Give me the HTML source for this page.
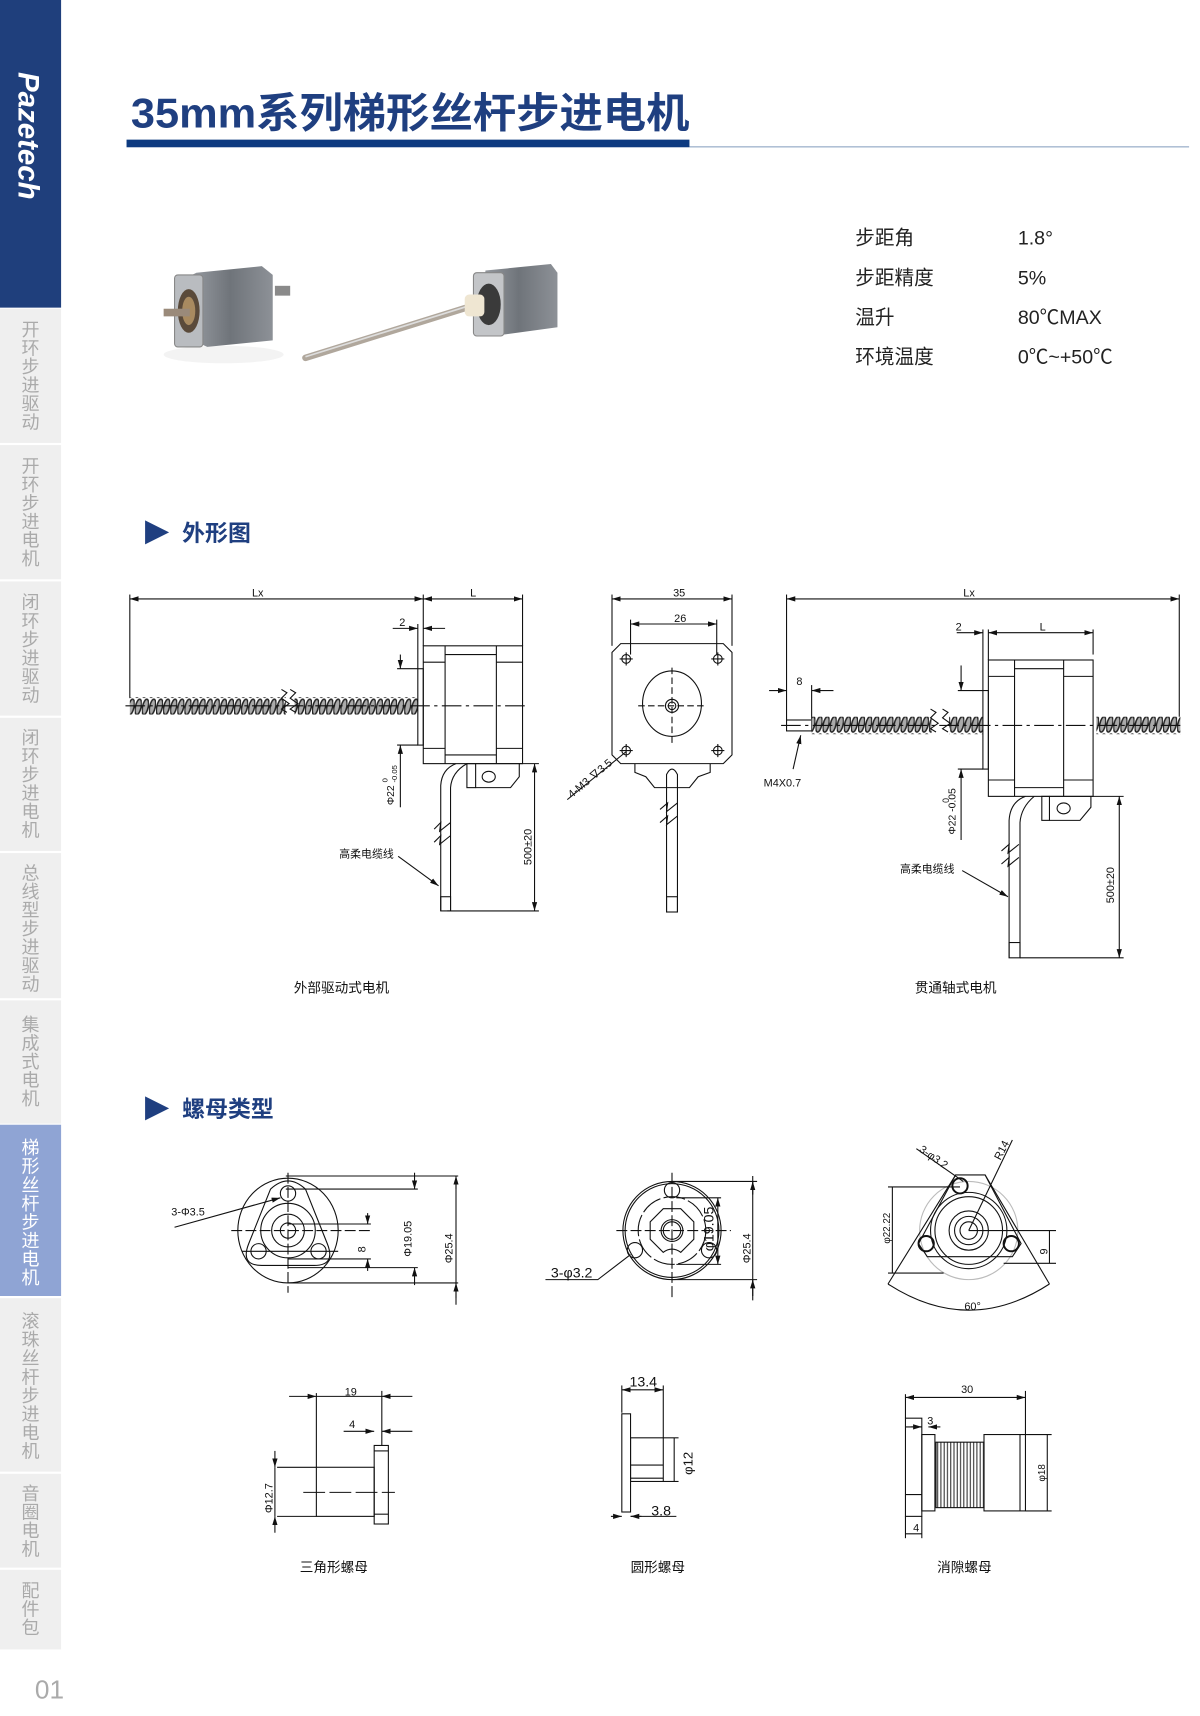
<!DOCTYPE html>
<html><head><meta charset="utf-8"><style>
html,body{margin:0;padding:0;background:#fff;}
svg{display:block}
text{font-family:"Liberation Sans","Noto Sans CJK SC",sans-serif;}
</style></head><body>
<svg width="1200" height="1716" viewBox="0 0 1100 1573" xmlns="http://www.w3.org/2000/svg">
<defs>
<pattern id="thr" width="6.5" height="16" patternUnits="userSpaceOnUse">
<rect width="6.5" height="16" fill="#fff"/>
<ellipse cx="3.25" cy="8" rx="2.6" ry="7.2" transform="rotate(12 3.25 8)" fill="#aaa" stroke="#222" stroke-width="1.4"/>
</pattern>
<pattern id="thr2" width="3" height="10" patternUnits="userSpaceOnUse">
<rect width="3" height="10" fill="#fff"/><line x1="1.5" y1="0" x2="1.5" y2="10" stroke="#333" stroke-width="1"/>
</pattern>
<marker id="a" viewBox="0 0 10 6" refX="10" refY="3" markerWidth="8" markerHeight="5" orient="auto-start-reverse"><path d="M0 0L10 3L0 6z" fill="#111"/></marker>
<linearGradient id="mg" x1="0" y1="0" x2="1" y2="0"><stop offset="0" stop-color="#9a9ea4"/><stop offset=".5" stop-color="#6f747a"/><stop offset="1" stop-color="#8d9197"/></linearGradient>
</defs>

<!-- sidebar -->
<rect x="0" y="0" width="56" height="282" fill="#1f3f7c"/>
<text transform="translate(17,66) rotate(90)" font-size="27" font-weight="bold" font-style="italic" fill="#fff">Pazetech</text>
<g font-size="16.5" fill="#aaa" text-anchor="middle">
<rect x="0" y="283" width="56" height="123" fill="#efefef"/>
<rect x="0" y="408" width="56" height="123" fill="#efefef"/>
<rect x="0" y="533" width="56" height="123" fill="#efefef"/>
<rect x="0" y="658" width="56" height="122" fill="#efefef"/>
<rect x="0" y="782" width="56" height="133" fill="#efefef"/>
<rect x="0" y="917" width="56" height="113" fill="#efefef"/>
<rect x="0" y="1031" width="56" height="157" fill="#8fa4d4"/>
<rect x="0" y="1190" width="56" height="159" fill="#efefef"/>
<rect x="0" y="1351" width="56" height="86" fill="#efefef"/>
<rect x="0" y="1439" width="56" height="73" fill="#efefef"/>
<text x="28"><tspan x="28" y="308">开</tspan><tspan x="28" y="325">环</tspan><tspan x="28" y="342">步</tspan><tspan x="28" y="359">进</tspan><tspan x="28" y="376">驱</tspan><tspan x="28" y="393">动</tspan></text>
<text><tspan x="28" y="433">开</tspan><tspan x="28" y="450">环</tspan><tspan x="28" y="467">步</tspan><tspan x="28" y="484">进</tspan><tspan x="28" y="501">电</tspan><tspan x="28" y="518">机</tspan></text>
<text><tspan x="28" y="558">闭</tspan><tspan x="28" y="575">环</tspan><tspan x="28" y="592">步</tspan><tspan x="28" y="609">进</tspan><tspan x="28" y="626">驱</tspan><tspan x="28" y="643">动</tspan></text>
<text><tspan x="28" y="682">闭</tspan><tspan x="28" y="699">环</tspan><tspan x="28" y="716">步</tspan><tspan x="28" y="733">进</tspan><tspan x="28" y="750">电</tspan><tspan x="28" y="767">机</tspan></text>
<text><tspan x="28" y="806">总</tspan><tspan x="28" y="823">线</tspan><tspan x="28" y="840">型</tspan><tspan x="28" y="857">步</tspan><tspan x="28" y="874">进</tspan><tspan x="28" y="891">驱</tspan><tspan x="28" y="908">动</tspan></text>
<text><tspan x="28" y="945">集</tspan><tspan x="28" y="962">成</tspan><tspan x="28" y="979">式</tspan><tspan x="28" y="996">电</tspan><tspan x="28" y="1013">机</tspan></text>
<text fill="#fff"><tspan x="28" y="1058">梯</tspan><tspan x="28" y="1075">形</tspan><tspan x="28" y="1092">丝</tspan><tspan x="28" y="1109">杆</tspan><tspan x="28" y="1126">步</tspan><tspan x="28" y="1143">进</tspan><tspan x="28" y="1160">电</tspan><tspan x="28" y="1177">机</tspan></text>
<text><tspan x="28" y="1217">滚</tspan><tspan x="28" y="1234">珠</tspan><tspan x="28" y="1251">丝</tspan><tspan x="28" y="1268">杆</tspan><tspan x="28" y="1285">步</tspan><tspan x="28" y="1302">进</tspan><tspan x="28" y="1319">电</tspan><tspan x="28" y="1336">机</tspan></text>
<text><tspan x="28" y="1375">音</tspan><tspan x="28" y="1392">圈</tspan><tspan x="28" y="1409">电</tspan><tspan x="28" y="1426">机</tspan></text>
<text><tspan x="28" y="1464">配</tspan><tspan x="28" y="1481">件</tspan><tspan x="28" y="1498">包</tspan></text>
</g>
<text x="32" y="1557" font-size="24" fill="#aaa">01</text>

<!-- title -->
<text x="120" y="117" font-size="38" font-weight="bold" fill="#1f3f80" textLength="512" lengthAdjust="spacingAndGlyphs">35mm系列梯形丝杆步进电机</text>
<rect x="116" y="128" width="516" height="7" fill="#0d3a80"/>
<rect x="632" y="134" width="458" height="1.2" fill="#9fb3cc"/>

<!-- photos -->
<g>
<ellipse cx="205" cy="325" rx="55" ry="8" fill="#f3f3f3"/>
<rect x="252" y="262" width="14" height="9" fill="#8a8a8a"/>
<polygon points="180,250 240,244 250,252 250,312 190,318 172,310 172,254" fill="url(#mg)"/>
<rect x="160" y="252" width="26" height="66" rx="3" fill="#b9bcc0" stroke="#888"/>
<ellipse cx="173" cy="285" rx="10" ry="20" fill="#5a4a3a"/>
<ellipse cx="173" cy="285" rx="6" ry="13" fill="#a88a60"/>
<rect x="150" y="283" width="24" height="7" fill="#9a8a7a"/>
<line x1="280" y1="328" x2="431" y2="281" stroke="#b0a79c" stroke-width="6" stroke-linecap="round"/>
<line x1="280" y1="327" x2="431" y2="280" stroke="#ddd" stroke-width="1.5"/>
<polygon points="445,248 505,242 511,250 511,300 452,308 440,300" fill="url(#mg)"/>
<rect x="434" y="250" width="28" height="58" rx="3" fill="#c3c5c8" stroke="#888"/>
<ellipse cx="448" cy="279" rx="11" ry="19" fill="#3a3a3a"/>
<rect x="426" y="270" width="18" height="20" rx="4" fill="#efe6d2"/>
</g>

<!-- specs -->
<g font-size="18" fill="#222">
<text x="784" y="224">步距角</text><text x="933" y="224">1.8°</text>
<text x="784" y="261">步距精度</text><text x="933" y="261">5%</text>
<text x="784" y="297">温升</text><text x="933" y="297">80℃MAX</text>
<text x="784" y="333">环境温度</text><text x="933" y="333">0℃~+50℃</text>
</g>

<!-- headings -->
<polygon points="133,477 155,488 133,499" fill="#1f3f80"/>
<text x="167" y="496" font-size="21" font-weight="bold" fill="#1f3f80">外形图</text>
<polygon points="133,1005 155,1016 133,1027" fill="#1f3f80"/>
<text x="167" y="1024" font-size="21" font-weight="bold" fill="#1f3f80">螺母类型</text>

<g fill="none" stroke="#111" stroke-width="1">
<!-- ============ left drawing ============ -->
<line x1="119" y1="545" x2="119" y2="640"/><line x1="388" y1="545" x2="388" y2="592"/><line x1="479" y1="545" x2="479" y2="592"/>
<line x1="119" y1="549" x2="388" y2="549" marker-start="url(#a)" marker-end="url(#a)"/>
<line x1="388" y1="549" x2="479" y2="549" marker-start="url(#a)" marker-end="url(#a)"/>
<line x1="383" y1="572" x2="383" y2="613"/>
<line x1="360" y1="576" x2="383" y2="576" marker-end="url(#a)"/><line x1="408" y1="576" x2="388" y2="576" marker-end="url(#a)"/>
<rect x="119" y="639" width="143" height="16" fill="url(#thr)" stroke="none"/>
<rect x="270" y="639" width="113" height="16" fill="url(#thr)" stroke="none"/>
<path d="M258 632 l5 3 l-5 5 l7 5 l-7 5 l5 3 M266 632 l5 3 l-5 5 l7 5 l-7 5 l5 3"/>
<line x1="115" y1="647" x2="485" y2="647" stroke-dasharray="18 4 3 4"/>
<rect x="383" y="613" width="5" height="70"/>
<rect x="388" y="592" width="91" height="108"/>
<line x1="408" y1="592" x2="408" y2="700"/><line x1="455" y1="592" x2="455" y2="700"/>
<line x1="388" y1="607" x2="408" y2="607"/><line x1="455" y1="607" x2="479" y2="607"/>
<line x1="408" y1="600" x2="455" y2="600"/><line x1="408" y1="692" x2="455" y2="692"/>
<line x1="388" y1="686" x2="408" y2="686"/><line x1="455" y1="686" x2="479" y2="686"/>
<line x1="364" y1="613" x2="383" y2="613"/><line x1="364" y1="683" x2="383" y2="683"/>
<line x1="367" y1="600" x2="367" y2="613" marker-end="url(#a)"/><line x1="367" y1="740" x2="367" y2="683" marker-end="url(#a)"/>
<path d="M418 700 Q405 705 404 720 L404 835 M428 700 Q414 708 413 722 L413 835"/>
<rect x="404" y="822" width="9" height="13"/>
<rect x="428" y="700" width="8" height="22"/><path d="M436 700 H476 L476 712 L468 722 H436"/>
<ellipse cx="448" cy="712" rx="6" ry="5"/>
<path d="M398 760 l6 -6 l-1 8 l10 -8 M398 772 l6 -6 l-1 8 l10 -8"/>
<line x1="410" y1="835" x2="494" y2="835"/><line x1="476" y1="700" x2="494" y2="700"/>
<line x1="490" y1="700" x2="490" y2="835" marker-start="url(#a)" marker-end="url(#a)"/>
<line x1="365" y1="785" x2="402" y2="812" marker-end="url(#a)"/>

<!-- front view -->
<line x1="561" y1="545" x2="561" y2="592"/><line x1="671" y1="545" x2="671" y2="592"/>
<line x1="561" y1="549" x2="671" y2="549" marker-start="url(#a)" marker-end="url(#a)"/>
<line x1="578" y1="568" x2="578" y2="600"/><line x1="657" y1="568" x2="657" y2="600"/>
<line x1="578" y1="572" x2="657" y2="572" marker-start="url(#a)" marker-end="url(#a)"/>
<path d="M569 590 H663 L671 598 V692 L663 700 H569 L561 692 V598 Z"/>
<ellipse cx="616" cy="645" rx="27" ry="30"/>
<circle cx="616" cy="647" r="6"/><circle cx="616" cy="647" r="3.5"/>
<line x1="585" y1="647" x2="648" y2="647" stroke-dasharray="6 3"/><line x1="616" y1="612" x2="616" y2="683" stroke-dasharray="6 3"/>
<circle cx="574" cy="604" r="4"/><circle cx="658" cy="604" r="4"/><circle cx="574" cy="688" r="4"/><circle cx="658" cy="688" r="4"/>
<path d="M568 604h12M574 598v12M652 604h12M658 598v12M568 688h12M574 682v12M652 688h12M658 682v12"/>
<path d="M582 700 V708 L592 712 L600 722 H632 L640 712 L651 708 V700"/>
<path d="M611 836 V710 Q616 700 621 710 V836"/><rect x="611" y="822" width="10" height="14"/>
<path d="M605 742 l7 -6 l-1 8 l10 -8 M605 754 l7 -6 l-1 8 l10 -8"/>
<line x1="520" y1="733" x2="574" y2="689"/>

<!-- ============ right drawing ============ -->
<line x1="721" y1="545" x2="721" y2="660"/><line x1="1081" y1="545" x2="1081" y2="660"/>
<line x1="721" y1="549" x2="1081" y2="549" marker-start="url(#a)" marker-end="url(#a)"/>
<line x1="901" y1="577" x2="901" y2="633"/><line x1="906" y1="577" x2="906" y2="605"/><line x1="1002" y1="577" x2="1002" y2="600"/>
<line x1="877" y1="580" x2="901" y2="580" marker-end="url(#a)"/>
<line x1="906" y1="580" x2="1002" y2="580" marker-start="url(#a)" marker-end="url(#a)"/>
<line x1="744" y1="628" x2="744" y2="660"/>
<line x1="705" y1="633" x2="721" y2="633" marker-end="url(#a)"/><line x1="764" y1="633" x2="744" y2="633" marker-end="url(#a)"/>
<rect x="721" y="660" width="23" height="10"/>
<rect x="744" y="657" width="110" height="16" fill="url(#thr)" stroke="none"/>
<rect x="870" y="657" width="31" height="16" fill="url(#thr)" stroke="none"/>
<rect x="1005" y="657" width="77" height="16" fill="url(#thr)" stroke="none"/>
<path d="M853 650 l5 3 l-5 5 l7 5 l-7 5 l5 3 M864 650 l5 3 l-5 5 l7 5 l-7 5 l5 3"/>
<line x1="716" y1="665" x2="1084" y2="665" stroke-dasharray="18 4 3 4"/>
<rect x="901" y="633" width="5" height="72"/>
<rect x="906" y="605" width="96" height="125"/>
<line x1="930" y1="605" x2="930" y2="730"/><line x1="975" y1="605" x2="975" y2="730"/>
<line x1="906" y1="620" x2="930" y2="620"/><line x1="975" y1="620" x2="1002" y2="620"/>
<line x1="930" y1="613" x2="975" y2="613"/><line x1="930" y1="722" x2="975" y2="722"/>
<line x1="906" y1="715" x2="930" y2="715"/><line x1="975" y1="715" x2="1002" y2="715"/>
<line x1="878" y1="633" x2="901" y2="633"/><line x1="878" y1="705" x2="901" y2="705"/>
<line x1="881" y1="610" x2="881" y2="633" marker-end="url(#a)"/><line x1="881" y1="770" x2="881" y2="705" marker-end="url(#a)"/>
<path d="M940 730 Q926 735 925 752 L925 878 M948 730 Q936 740 935 754 L935 878"/>
<rect x="925" y="864" width="10" height="14"/>
<rect x="955" y="730" width="7" height="22"/><path d="M962 730 H1000 V740 L990 752 H962"/>
<ellipse cx="975" cy="741" rx="6" ry="5"/>
<path d="M918 780 l7 -6 l-1 8 l10 -8 M918 792 l7 -6 l-1 8 l10 -8"/>
<line x1="935" y1="878" x2="1030" y2="878"/><line x1="1000" y1="730" x2="1030" y2="730"/>
<line x1="1026" y1="730" x2="1026" y2="878" marker-start="url(#a)" marker-end="url(#a)"/>
<line x1="882" y1="798" x2="924" y2="822" marker-end="url(#a)"/>
<line x1="727" y1="705" x2="734" y2="674" marker-end="url(#a)"/>

<!-- ============ nut 1 front ============ -->
<ellipse cx="264" cy="1128" rx="46" ry="48"/>
<path d="M248 1090 Q264 1075 280 1090 L300 1140 Q308 1160 288 1160 L240 1160 Q220 1160 228 1140 Z"/>
<circle cx="264" cy="1128" r="25"/><circle cx="264" cy="1128" r="15"/><circle cx="264" cy="1128" r="7"/>
<circle cx="264" cy="1094" r="7"/><circle cx="237" cy="1147" r="7"/><circle cx="292" cy="1147" r="7"/>
<line x1="212" y1="1128" x2="340" y2="1128" stroke-dasharray="10 3"/><line x1="264" y1="1075" x2="264" y2="1185" stroke-dasharray="10 3"/>
<line x1="222" y1="1147" x2="310" y2="1147"/>
<line x1="262" y1="1078" x2="420" y2="1078"/><line x1="262" y1="1090" x2="383" y2="1090"/>
<line x1="264" y1="1162" x2="383" y2="1162"/><line x1="264" y1="1176" x2="420" y2="1176"/>
<line x1="264" y1="1122" x2="340" y2="1122"/><line x1="264" y1="1154" x2="340" y2="1154"/>
<line x1="337" y1="1112" x2="337" y2="1122" marker-end="url(#a)"/><line x1="337" y1="1165" x2="337" y2="1154" marker-end="url(#a)"/>
<line x1="380" y1="1075" x2="380" y2="1090" marker-end="url(#a)"/><line x1="380" y1="1178" x2="380" y2="1162" marker-end="url(#a)"/>
<line x1="418" y1="1080" x2="418" y2="1196"/>
<line x1="418" y1="1090" x2="418" y2="1078" marker-end="url(#a)"/><line x1="418" y1="1190" x2="418" y2="1176" marker-end="url(#a)"/>
<line x1="160" y1="1125" x2="257" y2="1098" marker-end="url(#a)"/>

<!-- nut 2 front -->
<circle cx="616" cy="1128" r="45"/><circle cx="616" cy="1128" r="43"/>
<circle cx="616" cy="1128" r="31" stroke-dasharray="20 3"/>
<path d="M608 1108 H624 L636 1120 V1136 L624 1148 Q616 1142 608 1148 L596 1136 V1120 Z"/>
<circle cx="616" cy="1128" r="10"/><circle cx="616" cy="1128" r="8"/>
<circle cx="616" cy="1091" r="7"/><circle cx="582" cy="1146" r="7"/><circle cx="650" cy="1146" r="7"/>
<line x1="565" y1="1128" x2="670" y2="1128" stroke-dasharray="10 3"/><line x1="616" y1="1075" x2="616" y2="1190" stroke-dasharray="10 3"/>
<line x1="616" y1="1083" x2="694" y2="1083"/><line x1="616" y1="1173" x2="694" y2="1173"/>
<line x1="620" y1="1098" x2="661" y2="1098"/><line x1="620" y1="1159" x2="661" y2="1159"/>
<line x1="658" y1="1098" x2="658" y2="1159" marker-start="url(#a)" marker-end="url(#a)"/>
<line x1="690" y1="1078" x2="690" y2="1192"/>
<line x1="690" y1="1095" x2="690" y2="1083" marker-end="url(#a)"/><line x1="690" y1="1188" x2="690" y2="1173" marker-end="url(#a)"/>
<path d="M500 1173 H548 L578 1150"/>

<!-- nut 3 front -->
<circle cx="888" cy="1128" r="45" stroke="#bbb"/>
<path d="M876 1077 H903 L936 1140 L928 1152 H850 L842 1140 Z"/>
<circle cx="888" cy="1128" r="35"/><circle cx="888" cy="1128" r="31"/>
<circle cx="888" cy="1128" r="18"/><circle cx="888" cy="1128" r="13"/><circle cx="888" cy="1128" r="8"/>
<circle cx="880" cy="1087" r="7" stroke-width="1.8"/><circle cx="849" cy="1140" r="7" stroke-width="1.8"/><circle cx="927" cy="1140" r="7" stroke-width="1.8"/>
<line x1="888" y1="1128" x2="968" y2="1128"/><line x1="920" y1="1158" x2="968" y2="1158"/>
<line x1="962" y1="1128" x2="962" y2="1158"/>
<line x1="814" y1="1088" x2="880" y2="1088"/><line x1="814" y1="1167" x2="865" y2="1167"/>
<line x1="818" y1="1088" x2="818" y2="1167"/>
<line x1="888" y1="1128" x2="928" y2="1045"/>
<line x1="840" y1="1053" x2="883" y2="1083"/>
<path d="M814 1177 L876 1077 M962 1177 L903 1077"/>
<path d="M814 1177 Q888 1225 962 1177"/>
</g>

<g fill="none" stroke="#111" stroke-width="1">
<!-- nut 1 side -->
<line x1="290" y1="1277" x2="290" y2="1345"/><line x1="350" y1="1275" x2="350" y2="1325"/>
<line x1="265" y1="1280" x2="290" y2="1280" marker-end="url(#a)"/><line x1="378" y1="1280" x2="350" y2="1280" marker-end="url(#a)"/>
<line x1="290" y1="1280" x2="350" y2="1280"/>
<line x1="315" y1="1312" x2="343" y2="1312" marker-end="url(#a)"/><line x1="378" y1="1312" x2="350" y2="1312" marker-end="url(#a)"/>
<rect x="343" y="1325" width="13" height="72"/>
<line x1="343" y1="1330" x2="356" y2="1330"/><line x1="343" y1="1388" x2="356" y2="1388"/>
<rect x="290" y="1345" width="53" height="45"/>
<line x1="254" y1="1345" x2="290" y2="1345"/><line x1="254" y1="1390" x2="290" y2="1390"/>
<line x1="278" y1="1368" x2="362" y2="1368" stroke-dasharray="20 4"/>
<line x1="252" y1="1330" x2="252" y2="1345" marker-end="url(#a)"/><line x1="252" y1="1405" x2="252" y2="1390" marker-end="url(#a)"/>
<line x1="252" y1="1345" x2="252" y2="1390"/>
<!-- nut 2 side -->
<line x1="570" y1="1270" x2="570" y2="1295"/><line x1="608" y1="1270" x2="608" y2="1318"/>
<line x1="570" y1="1274" x2="608" y2="1274" marker-start="url(#a)" marker-end="url(#a)"/>
<rect x="570" y="1296" width="8" height="90"/>
<rect x="578" y="1318" width="30" height="40"/>
<line x1="578" y1="1343" x2="608" y2="1343"/><line x1="578" y1="1355" x2="608" y2="1355"/>
<line x1="608" y1="1318" x2="622" y2="1318"/><line x1="608" y1="1358" x2="622" y2="1358"/>
<line x1="618" y1="1318" x2="618" y2="1358"/>
<line x1="560" y1="1390" x2="570" y2="1390" marker-end="url(#a)"/><line x1="588" y1="1390" x2="578" y2="1390" marker-end="url(#a)"/>
<line x1="578" y1="1390" x2="620" y2="1390"/>
<!-- nut 3 side -->
<line x1="830" y1="1278" x2="830" y2="1300"/><line x1="940" y1="1275" x2="940" y2="1315"/>
<line x1="830" y1="1281" x2="940" y2="1281" marker-start="url(#a)" marker-end="url(#a)"/>
<rect x="830" y="1300" width="15" height="90"/>
<line x1="830" y1="1308" x2="845" y2="1308"/><line x1="830" y1="1370" x2="845" y2="1370"/>
<rect x="845" y="1315" width="12" height="70"/>
<rect x="858" y="1322" width="44" height="60" fill="url(#thr2)"/>
<rect x="902" y="1315" width="38" height="70"/><line x1="935" y1="1315" x2="935" y2="1385"/>
<line x1="940" y1="1315" x2="964" y2="1315"/><line x1="940" y1="1385" x2="964" y2="1385"/>
<line x1="960" y1="1315" x2="960" y2="1385"/>
<line x1="835" y1="1308" x2="845" y2="1308" marker-end="url(#a)"/><line x1="862" y1="1308" x2="851" y2="1308" marker-end="url(#a)"/>
<line x1="830" y1="1390" x2="830" y2="1410"/><line x1="845" y1="1390" x2="845" y2="1410"/>
<line x1="830" y1="1406" x2="845" y2="1406"/>
</g>

<!-- labels -->
<g font-size="10" fill="#111">
<text x="231" y="547">Lx</text><text x="431" y="547">L</text>
<text x="366" y="574">2</text>
<text transform="translate(361,738) rotate(-90)" font-size="9.5">Φ22 <tspan font-size="7" dy="-6">0</tspan><tspan font-size="7" dx="-4" dy="9">-0.05</tspan></text>
<text transform="translate(487,793) rotate(-90)">500±20</text>
<text x="311" y="786">高柔电缆线</text>
<text x="617" y="547">35</text><text x="618" y="570">26</text>
<text transform="translate(524,732) rotate(-40)">4-M3 ∇3.5</text>
<text x="883" y="547">Lx</text><text x="953" y="578">L</text><text x="876" y="578">2</text>
<text x="730" y="628">8</text>
<text x="700" y="721">M4X0.7</text>
<text transform="translate(876,765) rotate(-90)" font-size="9.5">Φ22 -0.05</text>
<text transform="translate(870,736) rotate(-90)" font-size="8">0</text>
<text transform="translate(1021,828) rotate(-90)">500±20</text>
<text x="825" y="800">高柔电缆线</text>
<text x="157" y="1114">3-Φ3.5</text>
<text transform="translate(335,1148) rotate(-90)">8</text>
<text transform="translate(377,1152) rotate(-90)">Φ19.05</text>
<text transform="translate(415,1158) rotate(-90)">Φ25.4</text>
<text x="505" y="1171" font-size="13">3-φ3.2</text>
<text transform="translate(654,1147) rotate(-90)" font-size="13">φ19.05</text>
<text transform="translate(688,1158) rotate(-90)">Φ25.4</text>
<text transform="translate(842,1055) rotate(35)">3-φ3.2</text>
<text transform="translate(917,1064) rotate(-63)">R14</text>
<text transform="translate(816,1140) rotate(-90)" font-size="9">φ22.22</text>
<text transform="translate(960,1150) rotate(-90)">9</text>
<text x="884" y="1201">60°</text>
<text x="316" y="1279">19</text><text x="320" y="1309">4</text>
<text transform="translate(250,1387) rotate(-90)">Φ12.7</text>
<text x="577" y="1271" font-size="13">13.4</text>
<text transform="translate(635,1352) rotate(-90)" font-size="12">φ12</text>
<text x="597" y="1389" font-size="13">3.8</text>
<text x="881" y="1277">30</text><text x="850" y="1306">3</text><text x="837" y="1404">4</text>
<text transform="translate(958,1358) rotate(-90)" font-size="9">φ18</text>
</g>
<g font-size="12.5" fill="#111" text-anchor="middle">
<text x="313" y="910">外部驱动式电机</text>
<text x="876" y="910">贯通轴式电机</text>
<text x="306" y="1441">三角形螺母</text>
<text x="603" y="1441">圆形螺母</text>
<text x="884" y="1441">消隙螺母</text>
</g>
</svg>
</body></html>
